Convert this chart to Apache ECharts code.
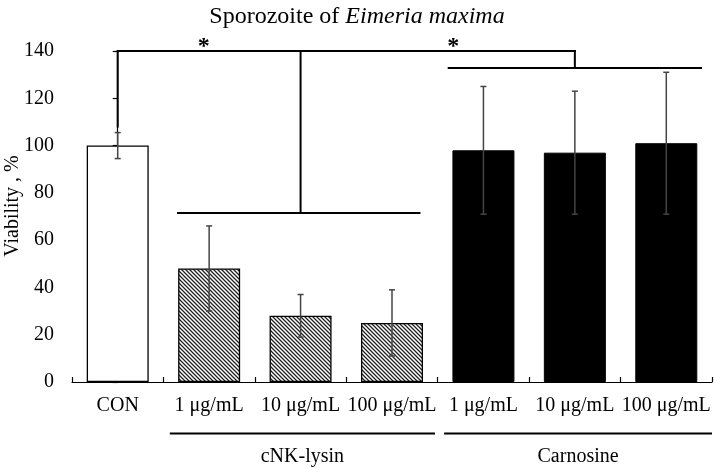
<!DOCTYPE html>
<html>
<head>
<meta charset="utf-8">
<script src="https://cdn.jsdelivr.net/npm/echarts@6/dist/echarts.min.js"></script>
<style>html,body{margin:0;padding:0;background:#fff}#c{width:714px;height:468px}</style>
</head>
<body>
<div id="c"></div>
<script>
// ---- data ----
const categories = ['CON', '1 μg/mL', '10 μg/mL', '100 μg/mL', '1 μg/mL', '10 μg/mL', '100 μg/mL'];
const viability = [100, 48, 28, 25, 98, 97, 101];
const errorSD = [5.5, 18, 9, 14, 27, 26, 30];
const barKind = ['open', 'hatch', 'hatch', 'hatch', 'solid', 'solid', 'solid'];
const groupNames = ['cNK-lysin', 'Carnosine'];
const groupFirst = [1, 4];
const groupLast = [3, 6];
const yMin = 0, yMax = 140, yStep = 20;

// significance brackets (data units: x = category index, y = viability %)
const bracketSegments = [
  [0, 108, 0, 140], [0, 140, 5, 140],
  [2, 140, 2, 71.5], [0.66, 71.5, 3.30, 71.5],
  [5, 140, 5, 132.8], [3.62, 132.8, 6.38, 132.8]
];
const starMarks = [[0.94, 143.5], [3.67, 143.5]];

const SERIF = '"Liberation Serif","Times New Roman",serif';

// hatch pattern
const pc = document.createElement('canvas');
pc.width = 4; pc.height = 4;
const px = pc.getContext('2d');
px.fillStyle = '#fff'; px.fillRect(0, 0, 4, 4);
px.strokeStyle = '#222'; px.lineWidth = 1.3;
px.beginPath();
px.moveTo(-1, -1); px.lineTo(5, 5);
px.moveTo(-1, 3); px.lineTo(1, 5);
px.moveTo(3, -1); px.lineTo(5, 1);
px.stroke();

function styleFor(kind) {
  if (kind === 'open') return { color: '#fff', borderColor: '#000', borderWidth: 1.3 };
  if (kind === 'hatch') return { color: { image: pc, repeat: 'repeat' }, borderColor: '#000', borderWidth: 1.3 };
  return { color: '#000', borderColor: '#000', borderWidth: 1 };
}

const barData = viability.map((v, i) => ({ value: v, itemStyle: styleFor(barKind[i]) }));
const errData = viability.map((v, i) => [i, v - errorSD[i], v + errorSD[i]]);
const groupData = groupNames.map((n, i) => [groupFirst[i], groupLast[i], n]);

const chart = echarts.init(document.getElementById('c'), null, { renderer: 'canvas' });
chart.setOption({
  animation: false,
  backgroundColor: '#fff',
  title: {
    text: 'Sporozoite of {i|Eimeria maxima}',
    left: 'center', top: 0,
    textStyle: {
      fontFamily: SERIF, fontSize: 24, fontWeight: 'normal', color: '#000',
      rich: { i: { fontFamily: SERIF, fontSize: 24, fontStyle: 'italic', color: '#000' } }
    }
  },
  grid: { left: 72, right: 2, top: 51, bottom: 86, containLabel: false, outerBoundsMode: 'none' },
  xAxis: [{
    type: 'category', data: categories,
    axisLine: { show: true, lineStyle: { color: '#000', width: 1.2 } },
    axisTick: { show: true, inside: true, length: 5, lineStyle: { color: '#000', width: 1.2 } },
    axisLabel: { color: '#000', fontFamily: SERIF, fontSize: 20, margin: 14, interval: 0 },
    splitLine: { show: false }
  }, {
    type: 'value', min: -0.5, max: 6.5, show: false
  }],
  yAxis: {
    type: 'value', min: yMin, max: yMax, interval: yStep,
    axisLine: { show: true, lineStyle: { color: '#000', width: 1.2 } },
    axisTick: { show: true, inside: false, length: 5, lineStyle: { color: '#000', width: 1.2 } },
    axisLabel: { color: '#000', fontFamily: SERIF, fontSize: 20, margin: 18 },
    splitLine: { show: false }
  },
  graphic: [{
    type: 'text', x: 13, y: 206, rotation: Math.PI / 2,
    style: { text: 'Viability , %', font: '20px ' + SERIF, fill: '#000', align: 'center', verticalAlign: 'middle' }
  }],
  series: [{
    type: 'bar', data: barData, barWidth: 62, xAxisIndex: 0
  }, {
    type: 'custom', xAxisIndex: 0, data: errData, z: 5,
    renderItem: function (params, api) {
      const i = api.value(0);
      const lo = api.coord([i, api.value(1)]);
      const hi = api.coord([i, api.value(2)]);
      const w = 3;
      const st = { stroke: '#444', lineWidth: 1.5 };
      return { type: 'group', children: [
        { type: 'line', shape: { x1: lo[0], y1: lo[1], x2: hi[0], y2: hi[1] }, style: st },
        { type: 'line', shape: { x1: hi[0] - w, y1: hi[1], x2: hi[0] + w, y2: hi[1] }, style: st },
        { type: 'line', shape: { x1: lo[0] - w, y1: lo[1], x2: lo[0] + w, y2: lo[1] }, style: st }
      ] };
    }
  }, {
    type: 'custom', xAxisIndex: 1, data: bracketSegments, z: 6, clip: false,
    renderItem: function (params, api) {
      const a = api.coord([api.value(0), api.value(1)]);
      const b = api.coord([api.value(2), api.value(3)]);
      return { type: 'line', shape: { x1: a[0], y1: a[1], x2: b[0], y2: b[1] },
        style: { stroke: '#000', lineWidth: 2, lineCap: 'square' } };
    }
  }, {
    type: 'custom', xAxisIndex: 1, data: starMarks, z: 6, clip: false,
    renderItem: function (params, api) {
      const p = api.coord([api.value(0), api.value(1)]);
      return { type: 'text', x: p[0], y: p[1] + 4,
        style: { text: '*', font: 'bold 24px ' + SERIF, fill: '#000', align: 'center', verticalAlign: 'middle' } };
    }
  }, {
    type: 'custom', xAxisIndex: 1, data: groupData, z: 6, clip: false,
    renderItem: function (params, api) {
      const f = api.value(0), l = api.value(1);
      const idx = params.dataIndex;
      const x1 = f - 0.43, x2 = l + (idx === groupData.length - 1 ? 0.5 : 0.47);
      const a = api.coord([x1, yMin]);
      const b = api.coord([x2, yMin]);
      const lineY = a[1] + 51.5;
      const textY = a[1] + 75;
      return { type: 'group', children: [
        { type: 'line', shape: { x1: a[0], y1: lineY, x2: b[0], y2: lineY }, style: { stroke: '#000', lineWidth: 2 } },
        { type: 'text', x: (a[0] + b[0]) / 2, y: textY,
          style: { text: groupNames[idx], font: '20px ' + SERIF, fill: '#000', align: 'center', verticalAlign: 'middle' } }
      ] };
    }
  }]
});
</script>
</body>
</html>
